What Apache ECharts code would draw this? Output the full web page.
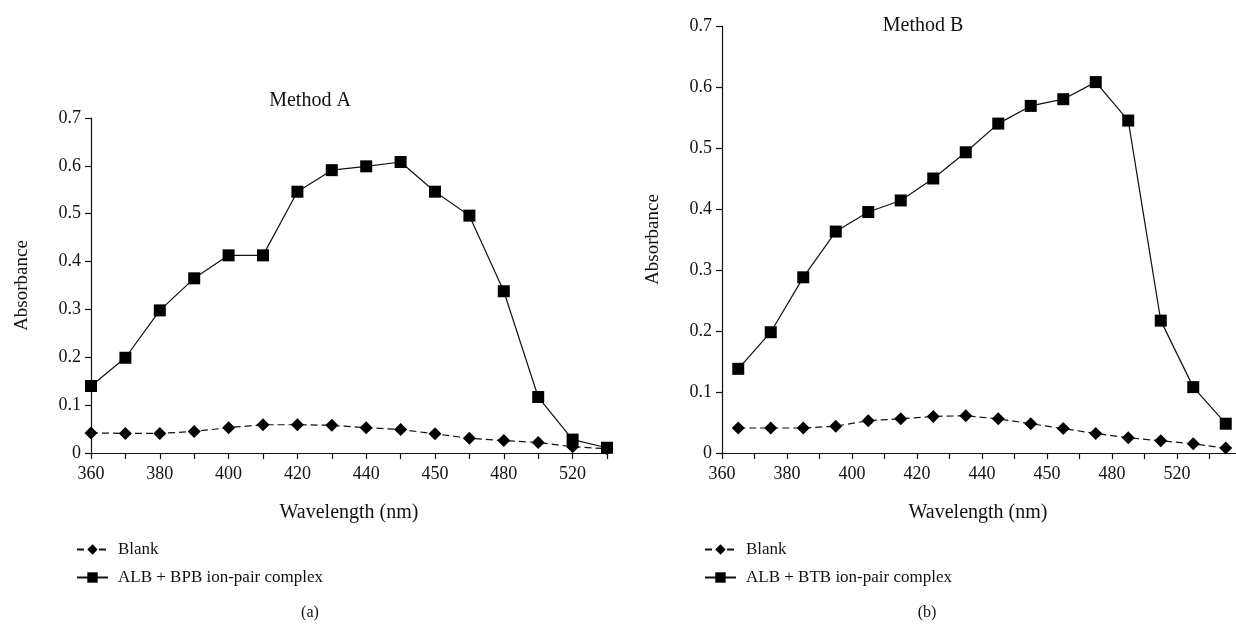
<!DOCTYPE html>
<html>
<head>
<meta charset="utf-8">
<script src="https://cdn.jsdelivr.net/npm/echarts@6/dist/echarts.min.js"></script>
<style>
  html, body { margin: 0; padding: 0; background: #fff; }
  #chart { width: 1236px; height: 630px; }
</style>
</head>
<body>
<div id="chart"></div>
<script>
// tick labels as printed under each axis (blank = unlabeled tick)
var ticksA = ['360', '', '380', '', '400', '', '420', '', '440', '', '450', '', '480', '', '520', ''];
var ticksB = ['360', '', '380', '', '400', '', '420', '', '440', '', '450', '', '480', '', '520', '', ''];

// Method A
var blankA = [0.042, 0.041, 0.041, 0.045, 0.053, 0.059, 0.059, 0.058, 0.053, 0.049, 0.040, 0.031, 0.026, 0.022, 0.013, 0.009];
var complexA = [0.140, 0.199, 0.298, 0.365, 0.413, 0.413, 0.546, 0.591, 0.599, 0.608, 0.546, 0.496, 0.338, 0.117, 0.028, 0.011];

// Method B
var blankB = [0.041, 0.041, 0.041, 0.044, 0.053, 0.056, 0.060, 0.061, 0.056, 0.048, 0.040, 0.032, 0.025, 0.020, 0.015, 0.008];
var complexB = [0.138, 0.198, 0.288, 0.363, 0.395, 0.414, 0.450, 0.493, 0.540, 0.569, 0.580, 0.608, 0.545, 0.217, 0.108, 0.048];

var FONT = 'Liberation Serif';
var INK = '#111';

var myChart = echarts.init(document.getElementById('chart'));

function yAxisFor(gridIndex) {
  return {
    type: 'value',
    gridIndex: gridIndex,
    min: 0,
    max: 0.7,
    interval: 0.1,
    name: 'Absorbance',
    nameLocation: 'middle',
    nameGap: 59,
    nameTextStyle: { fontFamily: FONT, fontSize: 19, color: INK },
    axisLine: { show: true, lineStyle: { color: INK, width: 1.2 } },
    axisTick: { show: true, length: 6, lineStyle: { color: INK, width: 1.2 } },
    axisLabel: { fontFamily: FONT, fontSize: 18, color: INK, margin: 10 },
    splitLine: { show: false }
  };
}

var baseX = {
  type: 'category',
  position: 'bottom',
  axisLine: { show: true, onZero: false, lineStyle: { color: INK, width: 1.2 } },
  axisTick: { show: true, length: 6, inside: false, lineStyle: { color: INK, width: 1.2 } },
  splitLine: { show: false },
  nameLocation: 'middle'
};

var titleStyle = { fontFamily: FONT, fontSize: 20, fontWeight: 'normal', color: INK };
var capStyle = { fontFamily: FONT, fontSize: 16, fontWeight: 'normal', color: INK };
var legendText = { fontFamily: FONT, fontSize: 17, color: INK, padding: [0, 0, 0, 5] };

var option = {
  animation: false,
  backgroundColor: '#fff',
  textStyle: { fontFamily: FONT },
  title: [
    { text: 'Method A', left: 305, top: 86, textAlign: 'center', textStyle: titleStyle },
    { text: 'Method B', left: 918, top: 11, textAlign: 'center', textStyle: titleStyle },
    { text: '(a)', left: 305, top: 600, textAlign: 'center', textStyle: capStyle },
    { text: '(b)', left: 922, top: 600, textAlign: 'center', textStyle: capStyle }
  ],
  legend: [
    { data: ['Blank', 'ALB + BPB ion-pair complex'], orient: 'vertical', left: 71, top: 536,
      itemWidth: 31, itemHeight: 13, itemGap: 11, selectedMode: false, textStyle: legendText },
    { data: ['Blank', 'ALB + BTB ion-pair complex'], orient: 'vertical', left: 699, top: 536,
      itemWidth: 31, itemHeight: 13, itemGap: 11, selectedMode: false, textStyle: legendText }
  ],
  grid: [
    { left: 91, top: 118, width: 516, height: 335, containLabel: false, outerBoundsMode: 'none' },
    { left: 722, top: 26, width: 520, height: 427, containLabel: false, outerBoundsMode: 'none' }
  ],
  xAxis: [
    Object.assign({}, baseX, {
      gridIndex: 0,
      data: ticksA.map(function (t, i) { return String(i); }),
      boundaryGap: false,
      name: 'Wavelength (nm)',
      nameGap: 50,
      nameTextStyle: { fontFamily: FONT, fontSize: 20, color: INK },
      axisLabel: { interval: 0, fontFamily: FONT, fontSize: 18, color: INK, margin: 12,
        formatter: function (v, i) { return ticksA[i]; } }
    }),
    // series axis for panel B: points sit between the ticks
    Object.assign({}, baseX, {
      gridIndex: 1,
      data: blankB.map(function (t, i) { return String(i); }),
      boundaryGap: true,
      name: 'Wavelength (nm)',
      nameGap: 50,
      nameTextStyle: { fontFamily: FONT, fontSize: 20, color: INK, padding: [0, 8, 0, 0] },
      axisLabel: { show: false }
    }),
    // label axis for panel B: labels on the tick marks
    Object.assign({}, baseX, {
      gridIndex: 1,
      data: ticksB.map(function (t, i) { return 'b' + i; }),
      boundaryGap: false,
      axisLine: { show: false },
      axisTick: { show: false },
      axisLabel: { interval: 0, fontFamily: FONT, fontSize: 18, color: INK, margin: 12,
        formatter: function (v, i) { return ticksB[i]; } }
    })
  ],
  yAxis: [yAxisFor(0), yAxisFor(1)],
  series: [
    { name: 'Blank', type: 'line', xAxisIndex: 0, yAxisIndex: 0, data: blankA,
      symbol: 'diamond', symbolSize: 13, showAllSymbol: true, clip: false,
      lineStyle: { color: INK, width: 1.2, type: [7, 4] }, itemStyle: { color: '#000' } },
    { name: 'ALB + BPB ion-pair complex', type: 'line', xAxisIndex: 0, yAxisIndex: 0, data: complexA,
      symbol: 'rect', symbolSize: 12, showAllSymbol: true, clip: false,
      lineStyle: { color: INK, width: 1.2 }, itemStyle: { color: '#000' } },
    { name: 'Blank', type: 'line', xAxisIndex: 1, yAxisIndex: 1, data: blankB,
      symbol: 'diamond', symbolSize: 13, showAllSymbol: true, clip: false,
      lineStyle: { color: INK, width: 1.2, type: [7, 4] }, itemStyle: { color: '#000' } },
    { name: 'ALB + BTB ion-pair complex', type: 'line', xAxisIndex: 1, yAxisIndex: 1, data: complexB,
      symbol: 'rect', symbolSize: 12, showAllSymbol: true, clip: false,
      lineStyle: { color: INK, width: 1.2 }, itemStyle: { color: '#000' } }
  ]
};

myChart.setOption(option);
</script>
</body>
</html>
